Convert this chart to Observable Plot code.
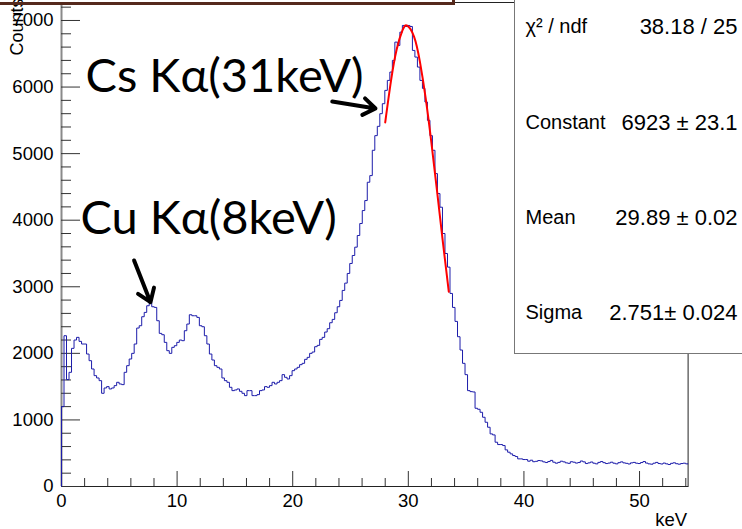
<!DOCTYPE html>
<html><head><meta charset="utf-8">
<script src="https://cdn.jsdelivr.net/npm/d3@7"></script>
<script src="https://cdn.jsdelivr.net/npm/@observablehq/plot@0.6"></script>
<style>
html,body{margin:0;padding:0;background:#fff;overflow:hidden;width:742px;height:529px;}
#chart svg{display:block;overflow:visible;}
</style>
</head><body><div id="chart"></div>
<script>
// ---- data ----
const binWidth = 0.2168; // keV per bin, 250 bins over 0–54.2 keV
const counts = [
  1200,2265,1605,1715,2075,2200,2240,2180,2140,2140,1990,1890,1765,1665,1630,1590,1400,1480,1500,1465,
  1480,1515,1565,1540,1530,1715,1815,1915,2000,2140,2380,2415,2550,2615,2715,2765,2700,2690,2490,2300,
  2280,2165,2040,2000,2090,2115,2165,2200,2190,2340,2440,2580,2565,2565,2540,2415,2400,2265,2140,1990,
  1900,1815,1790,1765,1630,1590,1565,1490,1440,1450,1465,1430,1400,1365,1440,1440,1365,1365,1380,1440,
  1450,1500,1490,1515,1565,1540,1565,1590,1680,1640,1615,1665,1740,1765,1790,
  1830,1850,1910,1940,2000,2020,2100,2120,2210,2240,2320,2370,2460,2510,2610,2700,
  2795,2945,3055,3200,3350,3470,3595,3770,3950,4145,4295,4570,4670,5050,5270,5410,5600,5750,5950,6100,
  6225,6400,6675,6625,6825,6925,6910,6925,6910,6550,6450,6300,6100,5980,5775,5500,5270,5050,4700,4400,
  4195,3800,3500,3295,2900,2690,
  2480,2250,2050,1850,1680,
  1440,1425,1420,1175,1160,1115,1040,965,890,790,775,665,630,630,615,550,515,490,465,450,415,415,405,405,
  380,395,372,378,390,385,370,360,375,392,365,350,362,380,370,355,348,372,365,352,
  360,383,370,345,355,368,350,340,362,375,358,345,352,365,350,340,358,370,355,348,
  338,355,362,350,345,360,375,352,340,335,350,362,345,338,352,340,330,348,356,342,
  335,345,350,340
];
const fitKeV    = [28.0, 28.5, 29.0, 29.5, 29.9, 30.5, 31.0, 31.5, 32.0, 32.5, 33.0, 33.5];
const fitCounts = [5468, 6093, 6570, 6854, 6923, 6755, 6382, 5833, 5159, 4414, 3654, 2927];
const xTicks = [0, 10, 20, 30, 40, 50];
const xMinor = [2,4,6,8,12,14,16,18,22,24,26,28,32,34,36,38,42,44,46,48,52,54];
const yTicks = [0, 1000, 2000, 3000, 4000, 5000, 6000, 7000];
const yMinor = [200,400,600,800,1200,1400,1600,1800,2200,2400,2600,2800,3200,3400,3600,3800,
                4200,4400,4600,4800,5200,5400,5600,5800,6200,6400,6600,6800,7200];
const statNames  = ["χ² / ndf", "Constant", "Mean", "Sigma"];
const statValues = ["38.18 / 25", "6923 ± 23.1", "29.89 ± 0.02", "2.751± 0.024"];
const peakLabels = [
  {text: "Cs Kα(31keV)", keV: 2.08, count: 6150},
  {text: "Cu Kα(8keV)",  keV: 1.64, count: 4015}
];
const peakArrows = [
  {x1: 23.42, y1: 5783, x2: 27.16, y2: 5678},
  {x1: 6.28,  y1: 3395, x2: 7.70,  y2: 2769}
];
const xTitle = "keV", yTitle = "Counts";
const xMax = 54.2, yMax = 7270;

// ---- layout ----
const W = 742, H = 529;
const mL = 61, mR = 54.4, mT = 2, mB = 43;
const plotW = W - mL - mR, plotH = H - mT - mB;

const hist = [{x: 0, y: 0}]
  .concat(counts.map((c, i) => ({x: i * binWidth, y: c})))
  .concat([{x: counts.length * binWidth, y: counts[counts.length - 1]}]);
const fit = fitKeV.map((k, i) => ({x: k, y: fitCounts[i]}));

const rowCenters = [26, 122, 217, 312];
const statMarks = [];
statNames.forEach((s, i) => {
  statMarks.push(Plot.text([s], {frameAnchor: "top-left", dx: 525 - mL, dy: rowCenters[i] - mT,
    textAnchor: "start", lineAnchor: "middle", fontSize: 20, fill: "#000"}));
  statMarks.push(Plot.text([statValues[i]], {frameAnchor: "top-right", dx: 737 - (W - mR), dy: rowCenters[i] - mT,
    textAnchor: "end", lineAnchor: "middle", fontSize: 22, fill: "#000"}));
});

const plot = Plot.plot({
  width: W, height: H,
  marginLeft: mL, marginRight: mR, marginTop: mT, marginBottom: mB,
  x: {domain: [0, xMax]},
  y: {domain: [0, yMax]},
  style: {fontFamily: "'Liberation Sans', Arial, Helvetica, sans-serif", fontSize: "18.5px", color: "#000", background: "#fff"},
  marks: [
    Plot.frame({stroke: "#222", strokeWidth: 1}),
    Plot.ruleX([0], {stroke: "#8a8a8a", strokeWidth: 2}),
    Plot.tickX(xTicks, {x: d => d, insetTop: plotH - 15, stroke: "#333"}),
    Plot.tickX(xMinor, {x: d => d, insetTop: plotH - 8, stroke: "#333"}),
    Plot.tickY(yTicks, {y: d => d, insetRight: plotW - 19, stroke: "#333"}),
    Plot.tickY(yMinor, {y: d => d, insetRight: plotW - 10, stroke: "#333"}),
    Plot.axisX({ticks: xTicks, tickSize: 0, tickPadding: 7, label: null, tickFormat: d => String(d)}),
    Plot.axisY({ticks: yTicks, tickSize: 0, tickPadding: 8, label: null, tickFormat: d => String(d)}),
    Plot.line(hist, {x: "x", y: "y", curve: "step-after", stroke: "#1c1caa", strokeWidth: 1}),
    Plot.line(fit, {x: "x", y: "y", curve: "natural", stroke: "#ff0000", strokeWidth: 2}),
    Plot.frame({fill: "#fff", stroke: "#777", strokeWidth: 1, insetLeft: 514 - mL, insetRight: -70, insetTop: -20, insetBottom: (H - mB) - 353}),
    ...statMarks,
    Plot.text([xTitle], {frameAnchor: "bottom-right", textAnchor: "end", lineAnchor: "middle", dx: -1, dy: 34, fontSize: 18.5}),
    Plot.text([yTitle], {frameAnchor: "top-left", rotate: -90, textAnchor: "end", lineAnchor: "middle", dx: -44, dy: -4, fontSize: 18}),
    Plot.text(peakLabels, {x: "keV", y: "count", text: "text", textAnchor: "start", lineAnchor: "middle",
      fontFamily: "Lato, 'Open Sans', sans-serif", fontSize: 47, fill: "#000"}),
    Plot.arrow(peakArrows, {x1: "x1", y1: "y1", x2: "x2", y2: "y2", stroke: "#000", strokeWidth: 4,
      headLength: 18, headAngle: 70}),
    Plot.frame({stroke: "#55291c", strokeWidth: 3, fill: "none", insetLeft: -80, insetRight: (W - mR) - 453, insetTop: -20, insetBottom: (H - mB) - 3})
  ]
});
document.getElementById("chart").appendChild(plot);
</script>
</body></html>
